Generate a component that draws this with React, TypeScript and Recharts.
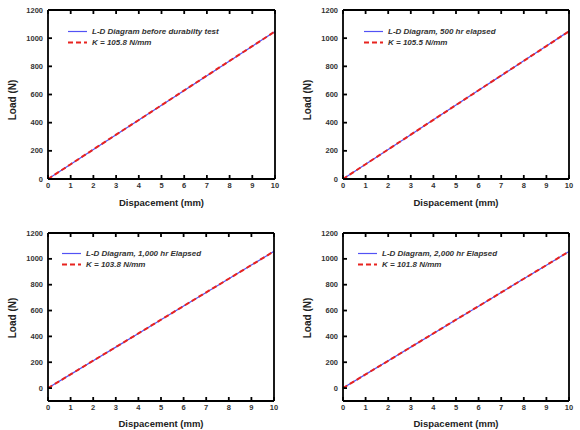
import { LineChart, Line, XAxis, YAxis, Legend, Label } from 'recharts';

// displacement samples (mm)
const disp = [0, 1, 2, 3, 4, 5, 6, 7, 8, 9, 10];

// measured load (N) per test stage
const loadBefore = [0, 105, 210, 314, 419, 524, 629, 734, 838, 943, 1048];
const load500 = [0, 105, 210, 315, 420, 525, 630, 734, 839, 944, 1050];
const load1000 = [0, 106, 212, 317, 423, 529, 635, 740, 846, 952, 1058];
const load2000 = [0, 106, 212, 317, 423, 529, 634, 740, 846, 951, 1057];

// linear fit (N)
const fitBefore = [0, 105, 210, 315, 419, 524, 629, 734, 839, 943, 1048];
const fit500 = [0, 105, 210, 315, 420, 525, 630, 735, 839, 944, 1049];
const fit1000 = [0, 106, 212, 317, 423, 529, 635, 741, 846, 952, 1058];
const fit2000 = [0, 106, 211, 317, 423, 529, 634, 740, 846, 951, 1057];

const xTicks = [0, 1, 2, 3, 4, 5, 6, 7, 8, 9, 10];
const yTicks = [0, 200, 400, 600, 800, 1000, 1200];

const FONT = '"Liberation Sans", Arial, sans-serif';
const BLUE = '#5252f5';
const RED = '#e8231f';
const AXIS_W = 1.8;
const TICK_LEN = 4;

interface PanelProps {
  left: number;
  top: number;
  load: number[];
  fit: number[];
  name: string;
  fitName: string;
  yMin: number;
  margin: { top: number; right: number; left: number; bottom: number };
  yAxisWidth: number;
  xAxisHeight: number;
  legendPos: { left: number; top: number };
  titleX: number;
  titleY: number;
  xTitleOffset: number;
}

const labelStyle = { fontFamily: FONT, fontSize: 7.5, fontWeight: 'bold' as const, fill: '#333' };

// inward tick marks, drawn at the axis position recharts hands us
const BottomTick = ({ x, y, payload }: any) => (
  <g>
    <line x1={x} x2={x} y1={y} y2={y - TICK_LEN} stroke="#000" strokeWidth={AXIS_W} />
    <text x={x} y={y + 6.5} dy="0.35em" textAnchor="middle" style={labelStyle}>{payload.value}</text>
  </g>
);
const LeftTick = ({ x, y, payload }: any) => (
  <g>
    <line x1={x} x2={x + TICK_LEN} y1={y} y2={y} stroke="#000" strokeWidth={AXIS_W} />
    <text x={x - 5} y={y} dy="0.35em" textAnchor="end" style={labelStyle}>{payload.value}</text>
  </g>
);
const TopTick = ({ x, y }: any) => (
  <line x1={x} x2={x} y1={y} y2={y + TICK_LEN} stroke="#000" strokeWidth={AXIS_W} />
);
const RightTick = ({ x, y }: any) => (
  <line x1={x} x2={x - TICK_LEN} y1={y} y2={y} stroke="#000" strokeWidth={AXIS_W} />
);

const LegendBox = ({ name, fitName }: { name: string; fitName: string }) => (
  <div style={{ fontFamily: FONT, fontSize: 8, fontWeight: 'bold', fontStyle: 'italic', color: '#333', lineHeight: '11px' }}>
    <div style={{ display: 'flex', alignItems: 'center' }}>
      <svg width={24} height={11}>
        <line x1={0} y1={5.5} x2={19} y2={5.5} stroke={BLUE} strokeWidth={1.2} />
      </svg>
      <span>{name}</span>
    </div>
    <div style={{ display: 'flex', alignItems: 'center' }}>
      <svg width={24} height={11}>
        <line x1={0} y1={5.5} x2={19} y2={5.5} stroke={RED} strokeWidth={2} strokeDasharray="5 3" />
      </svg>
      <span>{fitName}</span>
    </div>
  </div>
);

function Panel(p: PanelProps) {
  const data = disp.map((d, i) => ({ d, load: p.load[i], fit: p.fit[i] }));
  // top/right frame axes take 1px each, so take it off the margins
  const margin = { ...p.margin, top: p.margin.top - 1, right: p.margin.right - 1 };
  return (
    <div style={{ position: 'absolute', left: p.left, top: p.top }}>
      <LineChart width={290} height={215} data={data} margin={margin}>
        <XAxis
          dataKey="d"
          type="number"
          domain={[0, 10]}
          ticks={xTicks}
          tick={<BottomTick />}
          tickLine={false}
          tickSize={0}
          tickMargin={0}
          height={p.xAxisHeight}
          stroke="#000"
          strokeWidth={AXIS_W}
        >
          <Label
            value="Dispacement (mm)"
            position="insideBottom"
            offset={p.xTitleOffset}
            style={{ fontFamily: FONT, fontSize: 9.5, fontWeight: 'bold', fill: '#222' }}
          />
        </XAxis>
        <XAxis
          xAxisId="top" dataKey="d" type="number" domain={[0, 10]} ticks={xTicks} orientation="top"
          height={1} tick={<TopTick />} tickLine={false} tickSize={0} tickMargin={0} stroke="#000" strokeWidth={AXIS_W}
        />
        <YAxis
          type="number"
          domain={[p.yMin, 1200]}
          ticks={yTicks}
          tick={<LeftTick />}
          tickLine={false}
          tickSize={0}
          tickMargin={0}
          width={p.yAxisWidth}
          stroke="#000"
          strokeWidth={AXIS_W}
        />
        <YAxis
          yAxisId="right" type="number" domain={[p.yMin, 1200]} ticks={yTicks} orientation="right"
          width={1} tick={<RightTick />} tickLine={false} tickSize={0} tickMargin={0} stroke="#000" strokeWidth={AXIS_W}
        />
        <Legend
          layout="vertical"
          align="center"
          verticalAlign="middle"
          wrapperStyle={{ position: 'absolute', left: p.legendPos.left, top: p.legendPos.top, width: 'auto' }}
          content={() => <LegendBox name={p.name} fitName={p.fitName} />}
        />
        <Line dataKey="load" stroke={BLUE} strokeWidth={1.2} dot={false} isAnimationActive={false} />
        <Line dataKey="fit" stroke={RED} strokeWidth={2} strokeDasharray="5 3" dot={false} isAnimationActive={false} />
      </LineChart>
      <div
        style={{
          position: 'absolute',
          left: p.titleX,
          top: p.titleY,
          transform: 'translate(-50%, -50%) rotate(-90deg)',
          fontFamily: FONT,
          fontSize: 10,
          fontWeight: 'bold',
          color: '#222',
          whiteSpace: 'nowrap',
        }}
      >
        Load (N)
      </div>
    </div>
  );
}

export default function App() {
  return (
    <div style={{ position: 'absolute', left: 0, top: 0, width: 580, height: 430, background: '#fff' }}>
      <Panel
        left={0} top={0} load={loadBefore} fit={fitBefore}
        name="L-D Diagram before durabilty test" fitName="K = 105.8 N/mm"
        yMin={0} margin={{ top: 10, right: 15, left: 0, bottom: 0 }} yAxisWidth={48} xAxisHeight={36}
        legendPos={{ left: 68, top: 26 }} titleX={12} titleY={100} xTitleOffset={9}
      />
      <Panel
        left={290} top={0} load={load500} fit={fit500}
        name="L-D Diagram, 500 hr elapsed" fitName="K = 105.5 N/mm"
        yMin={0} margin={{ top: 10, right: 11, left: 0, bottom: 0 }} yAxisWidth={53} xAxisHeight={36}
        legendPos={{ left: 74, top: 26 }} titleX={17} titleY={100} xTitleOffset={9}
      />
      <Panel
        left={0} top={215} load={load1000} fit={fit1000}
        name="L-D Diagram, 1,000 hr Elapsed" fitName="K = 103.8 N/mm"
        yMin={-100} margin={{ top: 18, right: 16, left: 0, bottom: 0 }} yAxisWidth={48} xAxisHeight={29}
        legendPos={{ left: 62, top: 33 }} titleX={12} titleY={103} xTitleOffset={3}
      />
      <Panel
        left={290} top={215} load={load2000} fit={fit2000}
        name="L-D Diagram, 2,000 hr Elapsed" fitName="K = 101.8 N/mm"
        yMin={-100} margin={{ top: 18, right: 11, left: 0, bottom: 0 }} yAxisWidth={53} xAxisHeight={29}
        legendPos={{ left: 68, top: 33 }} titleX={17} titleY={103} xTitleOffset={3}
      />
    </div>
  );
}
